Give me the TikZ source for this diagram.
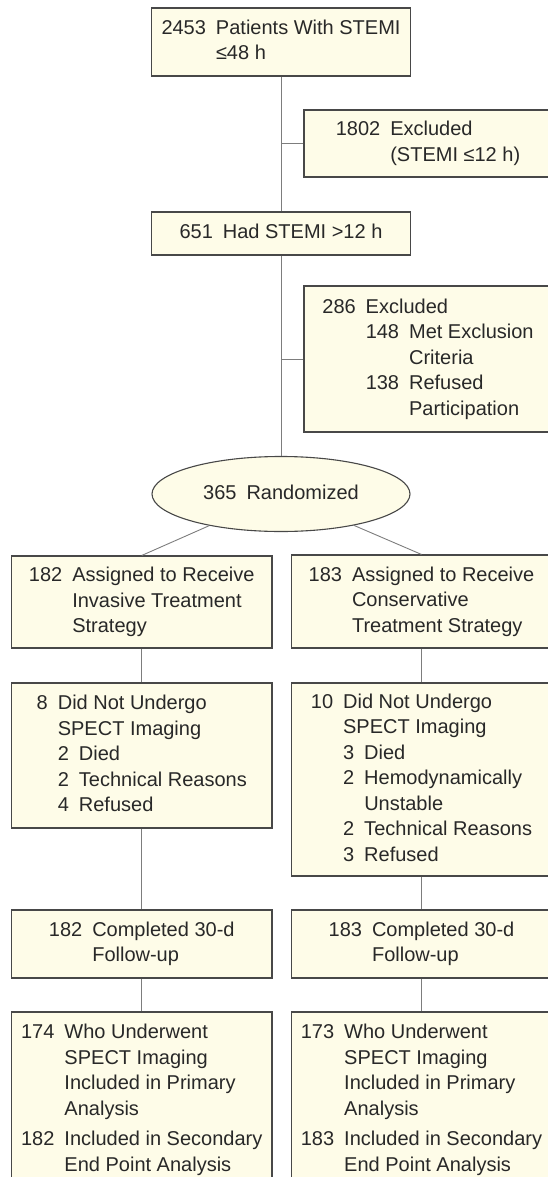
\documentclass[tikz,border=0pt]{standalone}
\usepackage{fontspec}
\setmainfont{Liberation Sans}
\usetikzlibrary{shapes.geometric}
\definecolor{boxfill}{RGB}{254,252,232}
\definecolor{boxline}{RGB}{72,72,72}
\definecolor{linkline}{RGB}{125,125,125}
\definecolor{txt}{RGB}{40,40,40}
\newcommand{\flowfont}{\fontsize{20}{25.5}\selectfont}

\begin{document}
\begin{tikzpicture}[x=1pt, y=-1pt,
  box/.style={draw=boxline, fill=boxfill, line width=1.1pt, inner sep=0pt, text=txt, font=\flowfont},
  link/.style={draw=linkline, line width=0.9pt}]
\useasboundingbox (0,0) rectangle (548,1177);
\clip (0,0) rectangle (548,1177);

% screening column
\node[box, minimum width=258.5pt, minimum height=68pt] (top) at (281,42)
  {\begin{tabular}{@{}r@{\hspace{.5em}}l@{}}2453 & Patients With STEMI\\ & ≤48 h\end{tabular}};
\node[box, minimum width=248pt, minimum height=67pt] (excl1) at (428,143.5)
  {\begin{tabular}{@{}r@{\hspace{.5em}}l@{}}1802 & Excluded\\ & (STEMI ≤12 h)\end{tabular}};
\node[box, minimum width=258.5pt, minimum height=43pt] (had) at (281,233.5)
  {\begin{tabular}{@{}r@{\hspace{.5em}}l@{}}651 & Had STEMI >12 h\end{tabular}};
\node[box, minimum width=248pt, minimum height=146pt] (excl2) at (428,359)
  {\begin{tabular}{@{}r@{\hspace{.5em}}r@{\hspace{.5em}}l@{}}
   286 & \multicolumn{2}{@{}l@{}}{Excluded}\\
   & 148 & Met Exclusion\\
   & & Criteria\\
   & 138 & Refused\\
   & & Participation
   \end{tabular}};
\node[box, ellipse, minimum width=258pt, minimum height=75pt] (rand) at (281,494)
  {\begin{tabular}{@{}r@{\hspace{.5em}}l@{}}365 & Randomized\end{tabular}};

% invasive arm
\node[box, minimum width=260.5pt, minimum height=92pt] (invL) at (141.75,602)
  {\begin{tabular}{@{}r@{\hspace{.5em}}l@{}}182 & Assigned to Receive\\ & Invasive Treatment\\ & Strategy\end{tabular}};
\node[box, minimum width=260.5pt, minimum height=145pt] (noL) at (141.75,755.5)
  {\begin{tabular}{@{}r@{\hspace{.5em}}r@{\hspace{.5em}}l@{}}
   8 & \multicolumn{2}{@{}l@{}}{Did Not Undergo}\\
   & \multicolumn{2}{@{}l@{}}{SPECT Imaging}\\
   & 2 & Died\\
   & 2 & Technical Reasons\\
   & 4 & Refused
   \end{tabular}};
\node[box, minimum width=260.5pt, minimum height=68pt] (fuL) at (141.75,944)
  {\begin{tabular}{@{}r@{\hspace{.5em}}l@{}}182 & Completed 30-d\\ & Follow-up\end{tabular}};
\node[box, minimum width=260.5pt, minimum height=176pt] (anL) at (141.75,1100)
  {\begin{tabular}{@{}r@{\hspace{.5em}}l@{}}174 & Who Underwent\\ & SPECT Imaging\\ & Included in Primary\\ & Analysis\\[5pt]
   182 & Included in Secondary\\ & End Point Analysis\end{tabular}};

% conservative arm
\node[box, minimum width=260.5pt, minimum height=93pt] (invR) at (421.5,601.5)
  {\begin{tabular}{@{}r@{\hspace{.5em}}l@{}}183 & Assigned to Receive\\ & Conservative\\ & Treatment Strategy\end{tabular}};
\node[box, minimum width=260.5pt, minimum height=193pt] (noR) at (421.5,779.5)
  {\begin{tabular}{@{}r@{\hspace{.5em}}r@{\hspace{.5em}}l@{}}
   10 & \multicolumn{2}{@{}l@{}}{Did Not Undergo}\\
   & \multicolumn{2}{@{}l@{}}{SPECT Imaging}\\
   & 3 & Died\\
   & 2 & Hemodynamically\\
   & & Unstable\\
   & 2 & Technical Reasons\\
   & 3 & Refused
   \end{tabular}};
\node[box, minimum width=260.5pt, minimum height=68pt] (fuR) at (421.5,944)
  {\begin{tabular}{@{}r@{\hspace{.5em}}l@{}}183 & Completed 30-d\\ & Follow-up\end{tabular}};
\node[box, minimum width=260.5pt, minimum height=176pt] (anR) at (421.5,1100)
  {\begin{tabular}{@{}r@{\hspace{.5em}}l@{}}173 & Who Underwent\\ & SPECT Imaging\\ & Included in Primary\\ & Analysis\\[5pt]
   183 & Included in Secondary\\ & End Point Analysis\end{tabular}};

\draw[link] (top) -- (had);
\draw[link] (had) -- (rand);
\draw[link] (excl1.west) -- (excl1.west -| top.south);
\draw[link] (excl2.west) -- (excl2.west -| had.south);
\draw[link] (rand) -- (invL.north);
\draw[link] (rand) -- (invR.north);
\draw[link] (invL) -- (noL);
\draw[link] (noL) -- (fuL);
\draw[link] (fuL) -- (anL);
\draw[link] (invR) -- (noR);
\draw[link] (noR) -- (fuR);
\draw[link] (fuR) -- (anR);
\end{tikzpicture}
\end{document}
